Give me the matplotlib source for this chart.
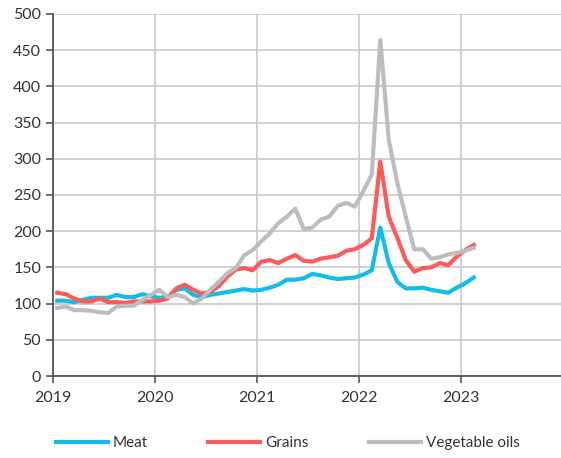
import numpy as np
import matplotlib
matplotlib.use('Agg')
import matplotlib.pyplot as plt

# Monthly index values, Jan 2019 - Feb 2023
years = [2019, 2020, 2021, 2022, 2023]
meat = [104, 104, 102, 105, 108, 108, 108, 112, 109, 109, 113, 110,
        108, 109, 119, 121, 112, 109, 112, 114, 116, 118, 120, 118,
        119, 122, 126, 133, 133, 135, 141, 139, 136, 134, 135, 136,
        140, 146, 205, 156, 130, 121, 121, 122, 119, 117, 115, 122,
        128, 136]
grains = [115, 113, 107, 103, 103, 107, 102, 102, 101, 103, 103, 103,
          104, 107, 121, 126, 119, 114, 116, 124, 137, 147, 149, 146,
          158, 160, 156, 162, 167, 159, 158, 162, 164, 166, 173, 175,
          181, 190, 296, 220, 191, 160, 144, 149, 150, 156, 153, 165,
          174, 181]
veg_oils = [94, 96, 91, 91, 90, 88, 87, 96, 97, 97, 105, 112,
            119, 109, 112, 109, 100, 107, 119, 130, 142, 149, 167, 174,
            186, 197, 211, 220, 231, 203, 205, 216, 220, 235, 239, 234,
            255, 278, 464, 326, 267, 220, 175, 175, 162, 164, 168, 170,
            173, 177]

# mid-month positions on a year axis
x = 2019 + (np.arange(len(meat)) + 0.5) / 12

plt.rcParams['font.family'] = ['Lato', 'DejaVu Sans']
fig = plt.figure(figsize=(5.61, 4.58), dpi=100)
ax = fig.add_axes([0.0945, 0.179, 0.9055, 0.7906])

ax.plot(x, meat, color='#12bde8', lw=3, label='Meat')
ax.plot(x, grains, color='#ff5a5a', lw=3, label='Grains')
ax.plot(x, veg_oils, color='#bdbdbd', lw=3, label='Vegetable oils')

ax.set_xlim(2019, 2023.98)
ax.set_ylim(0, 500)
ax.set_xticks(years)
ax.set_xticklabels([str(y) for y in years])
ax.set_yticks(np.arange(0, 501, 50))
ax.grid(True, color='#c8c8c8', lw=1.2)
ax.set_axisbelow(True)
for s in ['top', 'right']:
    ax.spines[s].set_visible(False)
for s in ['left', 'bottom']:
    ax.spines[s].set_color('#555555')
    ax.spines[s].set_linewidth(1.3)
ax.tick_params(colors='#555555', labelcolor='#333333', labelsize=11.5, length=5, width=1.2)
ax.tick_params(axis='x', pad=6)

fig.legend(loc='center', bbox_to_anchor=(0.513, 0.032), ncol=3, frameon=False,
           handlelength=3.4, columnspacing=4.0, handletextpad=0.3,
           fontsize=11, labelcolor='#333333')

fig.savefig('out.png', dpi=100)
